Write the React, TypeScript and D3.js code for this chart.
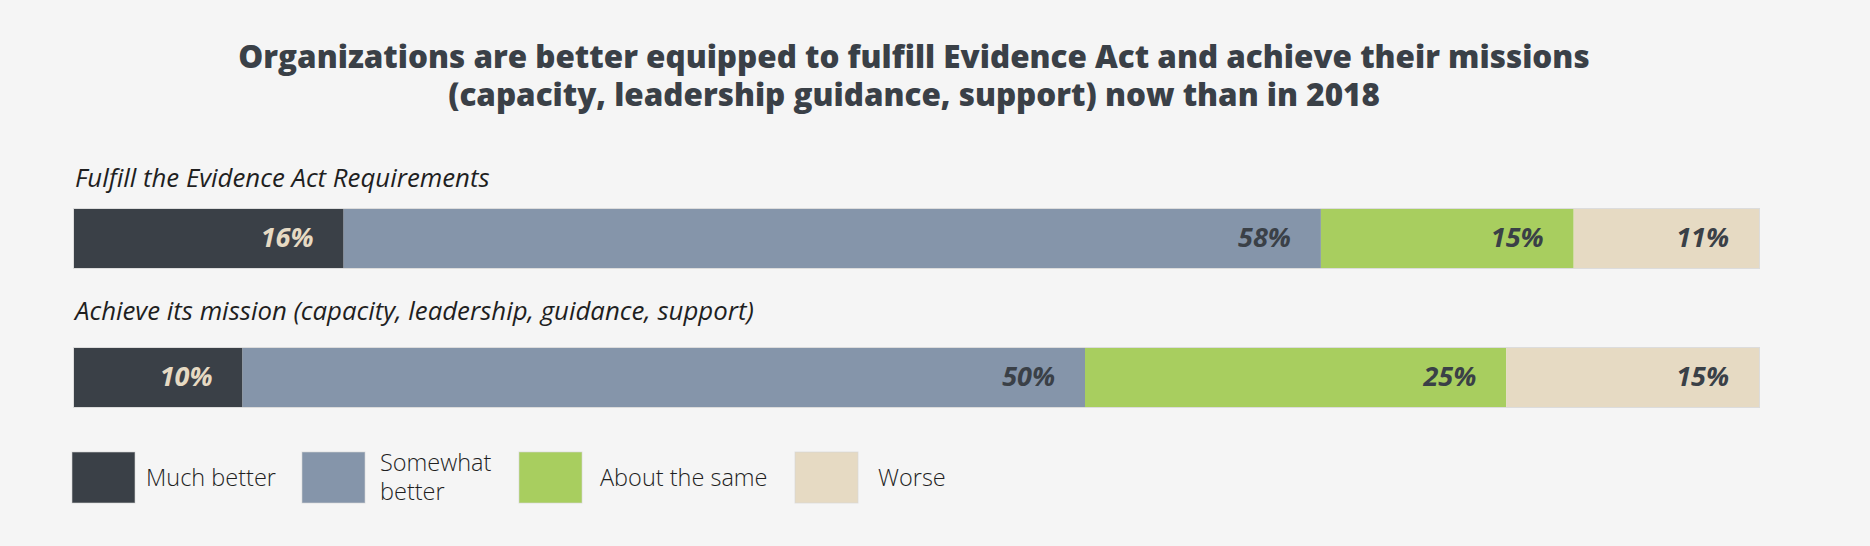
import React from "react";
import * as d3 from "d3";

const W = 1870;
const H = 546;

const titleLines = [
  "Organizations are better equipped to fulfill Evidence Act and achieve their missions",
  "(capacity, leadership guidance, support) now than in 2018",
];
const questions = [
  "Fulfill the Evidence Act Requirements",
  "Achieve its mission (capacity, leadership, guidance, support)",
];
const categories = ["Much better", "Somewhat better", "About the same", "Worse"];
const legendLines = [["Much better"], ["Somewhat", "better"], ["About the same"], ["Worse"]];
const colors = ["#3a4047", "#8595aa", "#a8ce5f", "#e6dac3"];
const labelColors = ["#e6dac3", "#3a4047", "#3a4047", "#3a4047"];
const fulfillValues = [16, 58, 15, 11];
const missionValues = [10, 50, 25, 15];
const seriesValues = [fulfillValues, missionValues];

const FONT = "'Open Sans', 'Noto Sans', sans-serif";

export default function App() {
  const x = d3.scaleLinear().domain([0, 100]).range([74, 1759]);
  const y = d3.scaleBand<number>().domain([0, 1]).range([209, 407]).paddingInner(80 / 139).paddingOuter(0);
  const bw = y.bandwidth();

  const questionY = [187, 320];
  const legendX = [72, 302, 519, 795];
  const legendTextX = [146, 380, 600, 878];

  return (
    <svg width={W} height={H} style={{ display: "block", position: "absolute", left: 0, top: 0 }}>
      <rect x={0} y={0} width={W} height={H} fill="#f5f5f5" />
      <text
        textAnchor="middle"
        fontFamily={FONT}
        fontWeight={800}
        fontSize={31.4}
        fill="#3a4047"
      >
        {titleLines.map((t, i) => (
          <tspan key={i} x={914} y={68 + i * 38}>
            {t}
          </tspan>
        ))}
      </text>
      {seriesValues.map((vals, r) => {
        const stacked = d3.cumsum(vals);
        const y0 = y(r)!;
        return (
          <g key={r}>
            <text
              x={75}
              y={questionY[r]}
              fontFamily={FONT}
              fontStyle="italic"
              fontSize={25.8}
              fill="#1f1f1f"
            >
              {questions[r]}
            </text>
            {vals.map((v, i) => {
              const start = stacked[i] - v;
              const end = stacked[i];
              return (
                <g key={i}>
                  <rect
                    x={x(start)}
                    y={y0}
                    width={x(end) - x(start)}
                    height={bw}
                    fill={colors[i]}
                  />
                  <text
                    x={x(end) - 30}
                    y={y0 + bw / 2 + 8.5}
                    textAnchor="end"
                    fontFamily={FONT}
                    fontWeight={700}
                    fontStyle="italic"
                    fontSize={27}
                    fill={labelColors[i]}
                  >
                    {v}%
                  </text>
                </g>
              );
            })}
            <rect
              x={x(0) - 0.5}
              y={y0 - 0.5}
              width={x(100) - x(0) + 1}
              height={bw + 1}
              fill="none"
              stroke="#d6d6d6"
              strokeOpacity={0.8}
              strokeWidth={1}
            />
          </g>
        );
      })}
      {categories.map((c, i) => (
        <g key={c}>
          <rect x={legendX[i]} y={452} width={63} height={51} fill={colors[i]} stroke="#d6d6d6" strokeOpacity={0.6} />
          {legendLines[i].length === 1 ? (
            <text x={legendTextX[i]} y={486} fontFamily={FONT} fontWeight={300} fontSize={23.5} fill="#1f1f1f">
              {legendLines[i][0]}
            </text>
          ) : (
            <text fontFamily={FONT} fontWeight={300} fontSize={23.5} fill="#1f1f1f">
              {legendLines[i].map((l, j) => (
                <tspan key={j} x={legendTextX[i]} y={471 + j * 29}>
                  {l}
                </tspan>
              ))}
            </text>
          )}
        </g>
      ))}
    </svg>
  );
}
